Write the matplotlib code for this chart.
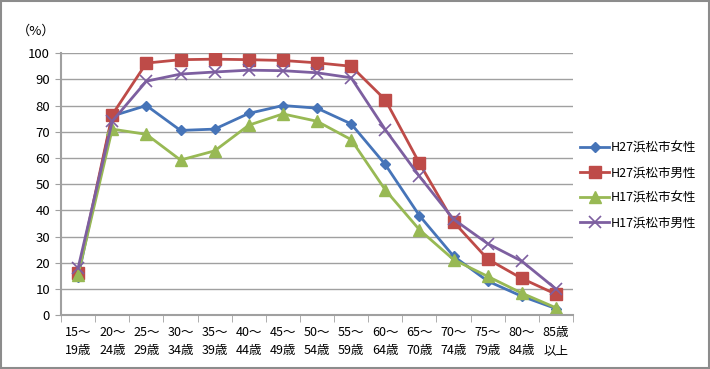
import matplotlib.pyplot as plt
from matplotlib.patches import Rectangle

plt.rcParams['font.family'] = ['Noto Sans CJK JP', 'DejaVu Sans']

ages = ['15～\n19歳', '20～\n24歳', '25～\n29歳', '30～\n34歳', '35～\n39歳',
        '40～\n44歳', '45～\n49歳', '50～\n54歳', '55～\n59歳', '60～\n64歳',
        '65～\n70歳', '70～\n74歳', '75～\n79歳', '80～\n84歳', '85歳\n以上']

h27_female = [14.5, 76, 80, 70.5, 71, 77, 80, 79, 73, 57.5, 38, 22.5, 13, 7.2, 2.5]
h27_male = [16, 76.5, 96.2, 97.5, 97.7, 97.5, 97.2, 96.3, 95, 82.2, 58, 35.6, 21.4, 14, 8]
h17_female = [15.5, 71, 69, 59.2, 62.7, 72.5, 76.8, 74, 67, 47.8, 32.6, 21.2, 14.8, 8.4, 2.8]
h17_male = [18, 74, 89.3, 92, 92.8, 93.5, 93.3, 92.5, 90.6, 70.8, 53, 36.6, 27.3, 20.6, 10]

labels = ['H27浜松市女性', 'H27浜松市男性', 'H17浜松市女性', 'H17浜松市男性']

fig = plt.figure(figsize=(7.1, 3.69), dpi=100)
ax = fig.add_axes([0.086, 0.146, 0.721, 0.71])

x = list(range(len(ages)))
ax.plot(x, h27_female, color='#4674B8', marker='D', markersize=5, lw=2, label=labels[0])
ax.plot(x, h27_male, color='#BE4B48', marker='s', markersize=8, lw=2, label=labels[1])
ax.plot(x, h17_female, color='#98B954', marker='^', markersize=8, lw=2, label=labels[2])
ax.plot(x, h17_male, color='#7D5FA0', marker='x', markersize=8, mew=1.2, lw=2, label=labels[3])

ax.set_xlim(-0.5, len(ages) - 0.5)
ax.set_ylim(0, 100)
ax.set_yticks(range(0, 101, 10))
ax.set_xticks(x)
ax.set_xticklabels(ages, fontsize=9, linespacing=1.5)
ax.set_xticks([i - 0.5 for i in range(len(ages) + 1)], minor=True)
ax.tick_params(axis='x', which='major', length=0, pad=8)
ax.tick_params(axis='x', which='minor', length=5, color='#A0A0A0')
ax.tick_params(axis='y', length=4, color='#A0A0A0', labelsize=9.5, pad=4)
ax.yaxis.grid(True, color='#A0A0A0', lw=1)
ax.set_axisbelow(True)
for s in ['top', 'right']:
    ax.spines[s].set_visible(False)
for s in ['left', 'bottom']:
    ax.spines[s].set_color('#A0A0A0')
    ax.spines[s].set_linewidth(1.5)

ax.text(-0.049, 1.06, '（%）', transform=ax.transAxes, fontsize=9.5, ha='center', va='bottom')

ax.legend(loc='center left', bbox_to_anchor=(1.0, 0.495), frameon=False, borderaxespad=0.2,
          fontsize=9, labelspacing=0.95, handlelength=2.3, handletextpad=0.15)

fig.patches.append(Rectangle((0.002, 0.003), 0.996, 0.994, transform=fig.transFigure,
                             fill=False, edgecolor='#8C8C8C', lw=1.5))

fig.savefig('out.png', dpi=100)
